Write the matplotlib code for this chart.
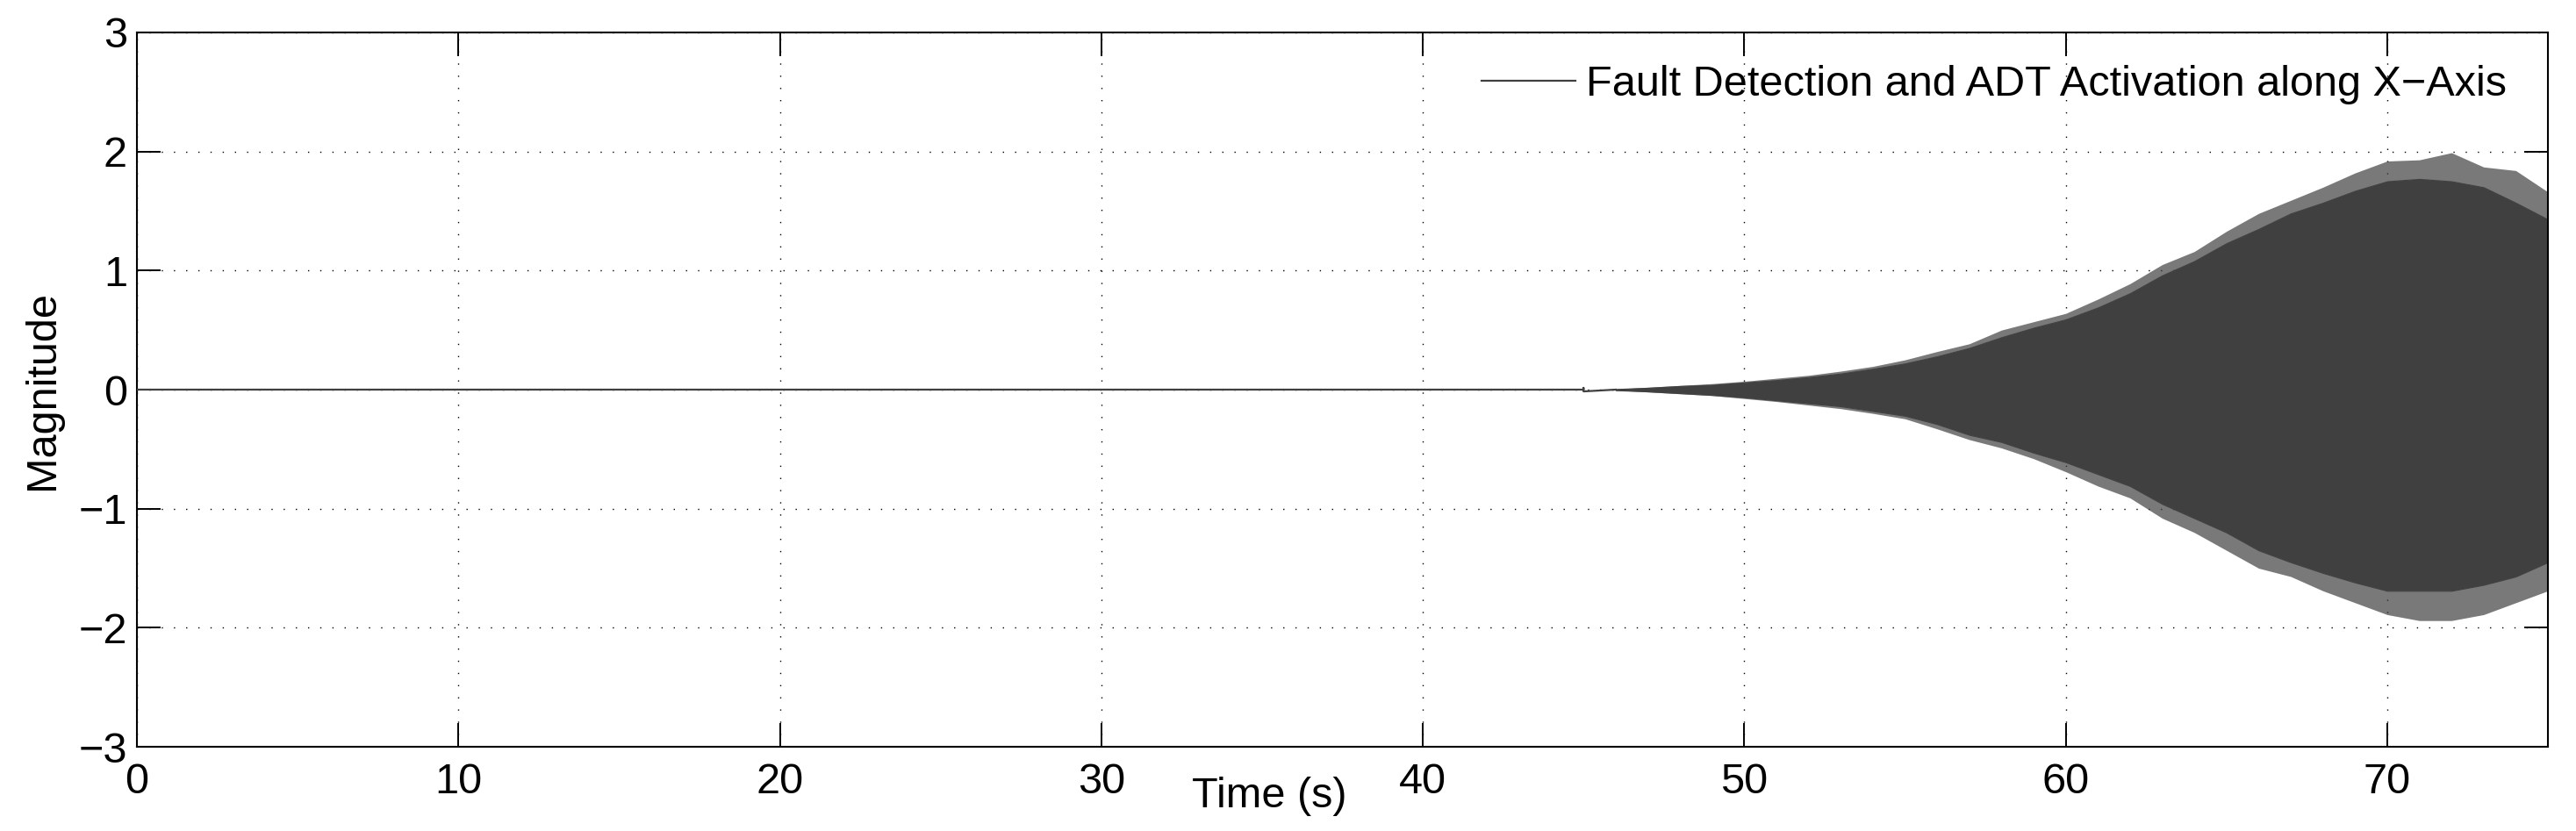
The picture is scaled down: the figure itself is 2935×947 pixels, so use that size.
import matplotlib
matplotlib.use("Agg")
import matplotlib.pyplot as plt

# values
flat_t = [0, 45, 45, 45, 46]
flat_y = [0, 0, 0.015, -0.015, 0]

t_env = [46, 47, 48, 49, 50, 51, 52, 53, 54, 55, 56, 57, 58, 59, 60,
         61, 62, 63, 64, 65, 66, 67, 68, 69, 70, 71, 72, 73, 74, 75]
upper_body = [0.005, 0.015, 0.03, 0.04, 0.06, 0.08, 0.105, 0.135, 0.175, 0.22,
              0.28, 0.35, 0.44, 0.52, 0.59, 0.69, 0.81, 0.96, 1.08, 1.23,
              1.35, 1.48, 1.57, 1.67, 1.75, 1.77, 1.75, 1.70, 1.57, 1.43]
upper_tip = [0.005, 0.02, 0.035, 0.05, 0.07, 0.095, 0.12, 0.155, 0.195, 0.25,
             0.32, 0.385, 0.50, 0.57, 0.64, 0.76, 0.89, 1.05, 1.16, 1.33,
             1.48, 1.59, 1.70, 1.82, 1.92, 1.93, 1.99, 1.87, 1.84, 1.66]
lower_body = [-0.005, -0.015, -0.03, -0.045, -0.065, -0.09, -0.115, -0.14, -0.18, -0.22,
              -0.29, -0.38, -0.44, -0.53, -0.61, -0.71, -0.81, -0.96, -1.08, -1.20,
              -1.35, -1.45, -1.54, -1.62, -1.69, -1.69, -1.69, -1.64, -1.57, -1.45]
lower_tip = [-0.005, -0.02, -0.035, -0.05, -0.075, -0.10, -0.13, -0.16, -0.20, -0.245,
             -0.33, -0.42, -0.49, -0.58, -0.69, -0.81, -0.91, -1.08, -1.20, -1.35,
             -1.50, -1.57, -1.69, -1.79, -1.89, -1.94, -1.94, -1.89, -1.79, -1.69]

x_ticks = [0, 10, 20, 30, 40, 50, 60, 70]
y_ticks = [-3, -2, -1, 0, 1, 2, 3]
label = "Fault Detection and ADT Activation along X\u2212Axis"
col = "#404040"

plt.rcParams["font.family"] = ["Liberation Sans", "DejaVu Sans"]
plt.rcParams["font.size"] = 35

fig = plt.figure(figsize=(29.35, 9.47), dpi=100)
ax = fig.add_axes([0.05315, 0.10137, 0.93595, 0.85956])

line, = ax.plot(flat_t, flat_y, color=col, lw=1.6, label=label, zorder=3)
ax.fill_between(t_env, lower_body, upper_body, color=col, lw=0.8, zorder=2)
ax.fill_between(t_env, upper_body, upper_tip, color=col, alpha=0.7, lw=0, zorder=2)
ax.fill_between(t_env, lower_tip, lower_body, color=col, alpha=0.7, lw=0, zorder=2)

ax.set_xlim(0, 75)
ax.set_ylim(-3, 3)
ax.set_xticks(x_ticks)
ax.set_yticks(y_ticks)
ax.set_yticklabels([str(v).replace("-", "\u2212") for v in y_ticks])

ax.grid(True, color="black", linestyle=(0, (1, 9)), linewidth=1.0)
ax.tick_params(direction="in", length=19.5, width=1.4, top=True, right=True)
ax.tick_params(axis="x", pad=13)
ax.tick_params(axis="y", pad=8)
for s in ax.spines.values():
    s.set_linewidth(1.5)

ax.set_xlabel("Time (s)")
ax.xaxis.label.set_verticalalignment("baseline")
ax.xaxis.set_label_coords(0.4696, -0.0848)
ax.set_ylabel("Magnitude")
ax.yaxis.label.set_verticalalignment("center")
ax.yaxis.set_label_coords(-0.039, 0.5)

ax.legend(handles=[line], loc="center right", bbox_to_anchor=(0.9829, 0.9263),
          frameon=False, borderaxespad=0, borderpad=0,
          handlelength=2.2, handletextpad=0.25)

fig.savefig("out.png", dpi=100)
